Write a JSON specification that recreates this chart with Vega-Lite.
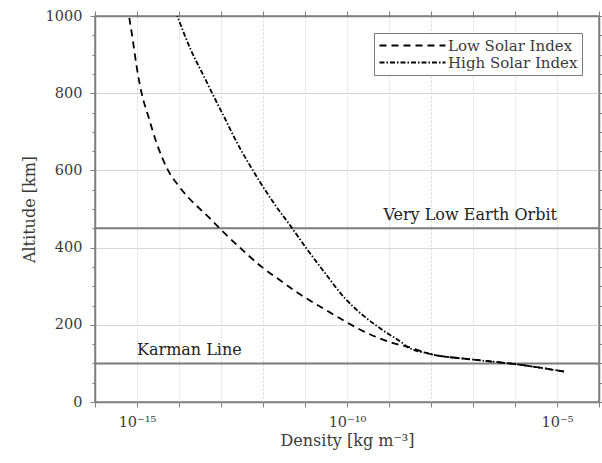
{
  "$schema": "https://vega.github.io/schema/vega-lite/v6.json",
  "width": 504,
  "height": 386,
  "autosize": "none",
  "padding": {"left": 95, "top": 16, "right": 3, "bottom": 61},
  "background": "white",
  "config": {
    "font": "DejaVu Serif",
    "view": {"stroke": "#808080", "strokeWidth": 1.5},
    "axis": {
      "domainColor": "#808080",
      "domainWidth": 1.5,
      "tickColor": "#808080",
      "tickWidth": 1,
      "labelColor": "#3a3a3a",
      "labelFont": "DejaVu Serif",
      "labelFontSize": 14.5,
      "titleFont": "DejaVu Serif",
      "titleFontSize": 16,
      "titleFontWeight": "normal",
      "titleColor": "#3a3a3a",
      "gridColor": "#d6d6d6",
      "gridWidth": 1,
      "labelOverlap": false,
      "labelFlush": false
    },
    "legend": {
      "labelFont": "DejaVu Serif",
      "labelFontSize": 15,
      "labelColor": "#3a3a3a"
    }
  },
  "datasets": {
    "curves": [
      {"series": "Low Solar Index", "alt": 1000, "density": 6.46e-16},
      {"series": "Low Solar Index", "alt": 930, "density": 8.13e-16},
      {"series": "Low Solar Index", "alt": 870, "density": 9.77e-16},
      {"series": "Low Solar Index", "alt": 800, "density": 1.29e-15},
      {"series": "Low Solar Index", "alt": 740, "density": 1.86e-15},
      {"series": "Low Solar Index", "alt": 670, "density": 2.95e-15},
      {"series": "Low Solar Index", "alt": 600, "density": 5.5e-15},
      {"series": "Low Solar Index", "alt": 560, "density": 9.8e-15},
      {"series": "Low Solar Index", "alt": 530, "density": 1.66e-14},
      {"series": "Low Solar Index", "alt": 500, "density": 3.16e-14},
      {"series": "Low Solar Index", "alt": 469, "density": 6.3e-14},
      {"series": "Low Solar Index", "alt": 443, "density": 1.07e-13},
      {"series": "Low Solar Index", "alt": 400, "density": 2.82e-13},
      {"series": "Low Solar Index", "alt": 350, "density": 9.3e-13},
      {"series": "Low Solar Index", "alt": 322, "density": 2.1e-12},
      {"series": "Low Solar Index", "alt": 279, "density": 7.6e-12},
      {"series": "Low Solar Index", "alt": 242, "density": 2.75e-11},
      {"series": "Low Solar Index", "alt": 206, "density": 1.0e-10},
      {"series": "Low Solar Index", "alt": 175, "density": 3.6e-10},
      {"series": "Low Solar Index", "alt": 152, "density": 1.3e-9},
      {"series": "Low Solar Index", "alt": 144, "density": 2.6e-9},
      {"series": "Low Solar Index", "alt": 125, "density": 9.1e-9},
      {"series": "Low Solar Index", "alt": 110, "density": 9.8e-8},
      {"series": "Low Solar Index", "alt": 99, "density": 8.7e-7},
      {"series": "Low Solar Index", "alt": 79, "density": 1.45e-5},
      {"series": "High Solar Index", "alt": 1000, "density": 9.1e-15},
      {"series": "High Solar Index", "alt": 913, "density": 1.9e-14},
      {"series": "High Solar Index", "alt": 844, "density": 3.9e-14},
      {"series": "High Solar Index", "alt": 792, "density": 6.7e-14},
      {"series": "High Solar Index", "alt": 740, "density": 1.17e-13},
      {"series": "High Solar Index", "alt": 671, "density": 2.42e-13},
      {"series": "High Solar Index", "alt": 611, "density": 5.0e-13},
      {"series": "High Solar Index", "alt": 568, "density": 8.7e-13},
      {"series": "High Solar Index", "alt": 516, "density": 1.79e-12},
      {"series": "High Solar Index", "alt": 455, "density": 4.6e-12},
      {"series": "High Solar Index", "alt": 397, "density": 1.1e-11},
      {"series": "High Solar Index", "alt": 335, "density": 2.95e-11},
      {"series": "High Solar Index", "alt": 270, "density": 8.7e-11},
      {"series": "High Solar Index", "alt": 223, "density": 2.5e-10},
      {"series": "High Solar Index", "alt": 184, "density": 7.6e-10},
      {"series": "High Solar Index", "alt": 149, "density": 2.3e-9},
      {"series": "High Solar Index", "alt": 144, "density": 2.6e-9},
      {"series": "High Solar Index", "alt": 125, "density": 9.1e-9},
      {"series": "High Solar Index", "alt": 110, "density": 9.8e-8},
      {"series": "High Solar Index", "alt": 99, "density": 8.7e-7},
      {"series": "High Solar Index", "alt": 79, "density": 1.45e-5}
    ],
    "lines": [
      {"label": "Very Low Earth Orbit", "alt": 450, "anchor": 1e-5},
      {"label": "Karman Line", "alt": 100, "anchor": 1e-15}
    ]
  },
  "layer": [
    {
      "data": {"name": "lines"},
      "mark": {"type": "rule", "color": "#7a7a7a", "strokeWidth": 2},
      "encoding": {
        "y": {
          "field": "alt", "type": "quantitative",
          "scale": {"domain": [0, 1000], "nice": false},
          "axis": {
            "orient": "right", "labels": false, "title": null, "grid": false,
            "values": [0,50,100,150,200,250,300,350,400,450,500,550,600,650,700,750,800,850,900,950,1000],
            "tickSize": {"condition": {"test": "datum.value % 200 === 0", "value": 5}, "value": 3}
          }
        }
      }
    },
    {
      "data": {"name": "curves"},
      "mark": {"type": "line", "color": "black", "strokeWidth": 1.8, "interpolate": "monotone"},
      "encoding": {
        "x": {
          "field": "density", "type": "quantitative",
          "scale": {"type": "log", "domain": [1e-16, 1e-4], "nice": false},
          "axis": {
            "title": "Density [kg m⁻³]",
            "values": [1e-16,1e-15,1e-14,1e-13,1e-12,1e-11,1e-10,1e-9,1e-8,1e-7,1e-6,1e-5,1e-4],
            "labelExpr": "abs(log(datum.value)/LN10 + 15) < 0.01 ? '10⁻¹⁵' : abs(log(datum.value)/LN10 + 10) < 0.01 ? '10⁻¹⁰' : abs(log(datum.value)/LN10 + 5) < 0.01 ? '10⁻⁵' : ''",
            "tickSize": 5,
            "labelPadding": 8,
            "titlePadding": 4,
            "grid": true,
            "gridDash": [2, 2]
          }
        },
        "y": {
          "field": "alt", "type": "quantitative",
          "scale": {"domain": [0, 1000], "nice": false},
          "axis": {
            "title": "Altitude [km]",
            "format": "d",
            "values": [0,50,100,150,200,250,300,350,400,450,500,550,600,650,700,750,800,850,900,950,1000],
            "labelExpr": "datum.value % 200 === 0 ? datum.label : ''",
            "tickSize": {"condition": {"test": "datum.value % 200 === 0", "value": 5}, "value": 3},
            "gridOpacity": {"condition": {"test": "datum.value % 200 === 0", "value": 1}, "value": 0},
            "labelPadding": 8,
            "titlePadding": 8,
            "grid": true
          }
        },
        "strokeDash": {
          "field": "series", "type": "nominal",
          "scale": {"domain": ["Low Solar Index", "High Solar Index"], "range": [[7, 5], [5, 2, 1.5, 2]]},
          "legend": {
            "title": null,
            "orient": "top-right",
            "offset": 17,
            "fillColor": "white",
            "strokeColor": "#7a7a7a",
            "padding": 4,
            "symbolType": "M-4.4,0H4.4",
            "symbolSize": 225,
            "symbolFillColor": "transparent",
            "symbolStrokeColor": "black",
            "symbolStrokeWidth": 1.8,
            "symbolOffset": 26,
            "labelOffset": 27,
            "rowPadding": 0
          }
        },
        "order": {"field": "alt", "type": "quantitative"}
      }
    },
    {
      "data": {"name": "lines"},
      "transform": [{"filter": "datum.label === 'Very Low Earth Orbit'"}],
      "mark": {"type": "text", "align": "right", "baseline": "alphabetic", "dy": -8, "fontSize": 16, "color": "#222222", "font": "DejaVu Serif"},
      "encoding": {
        "x": {"field": "anchor", "type": "quantitative", "scale": {"type": "log", "domain": [1e-16, 1e-4], "nice": false},
          "axis": {"orient": "top", "labels": false, "title": null, "grid": false, "tickSize": 5,
            "values": [1e-16,1e-15,1e-14,1e-13,1e-12,1e-11,1e-10,1e-9,1e-8,1e-7,1e-6,1e-5,1e-4]}},
        "y": {"field": "alt", "type": "quantitative", "axis": null},
        "text": {"field": "label"}
      }
    },
    {
      "data": {"name": "lines"},
      "transform": [{"filter": "datum.label === 'Karman Line'"}],
      "mark": {"type": "text", "align": "left", "baseline": "alphabetic", "dy": -8, "fontSize": 16, "color": "#222222", "font": "DejaVu Serif"},
      "encoding": {
        "x": {"field": "anchor", "type": "quantitative", "axis": null},
        "y": {"field": "alt", "type": "quantitative", "axis": null},
        "text": {"field": "label"}
      }
    }
  ],
  "resolve": {"axis": {"x": "independent", "y": "independent"}}
}
